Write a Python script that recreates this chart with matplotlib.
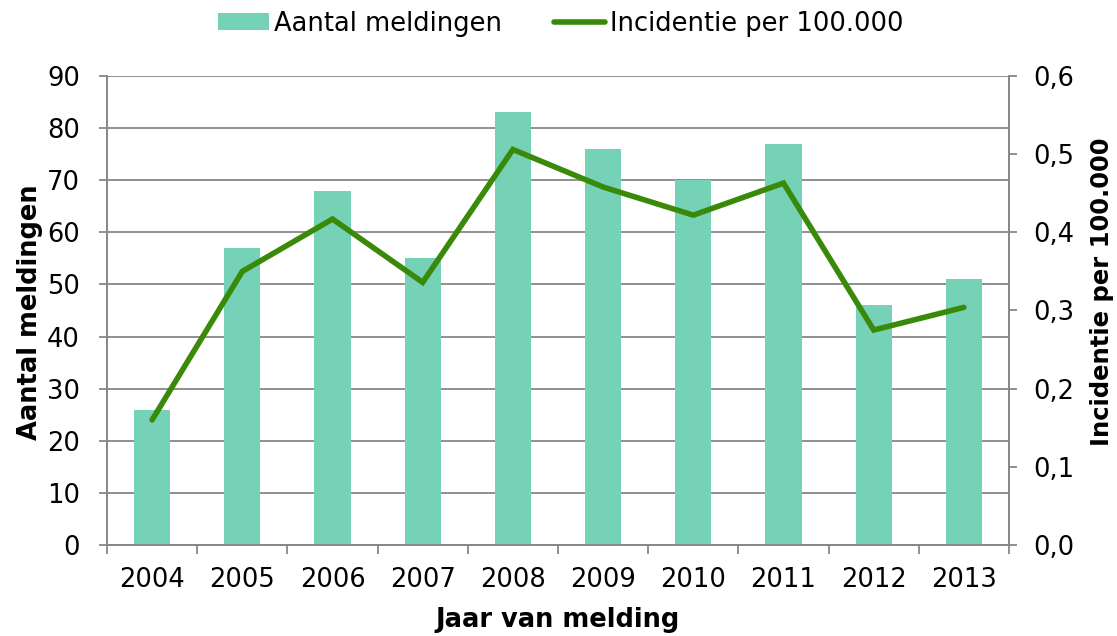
import matplotlib
matplotlib.use("Agg")
import matplotlib.pyplot as plt
import numpy as np
from matplotlib.ticker import FuncFormatter, FixedLocator

years = ["2004", "2005", "2006", "2007", "2008", "2009", "2010", "2011", "2012", "2013"]
meldingen = [26, 57, 68, 55, 83, 76, 70, 77, 46, 51]
incidentie = [0.160, 0.350, 0.417, 0.336, 0.506, 0.458, 0.422, 0.463, 0.275, 0.304]

bar_color = "#76D2B6"
line_color = "#3A8A0A"
grid_color = "#878787"
tick_fs = 18.5
label_fs = 18.5

plt.rcParams["font.family"] = ["DejaVu Sans"]

fig = plt.figure(figsize=(11.17, 6.36), dpi=100)
ax = fig.add_axes([0.0958, 0.1431, 0.8075, 0.7374])
ax2 = ax.twinx()

x = np.arange(len(years))
ax.bar(x, meldingen, width=0.4, color=bar_color, zorder=3, label="Aantal meldingen")
ax2.plot(x, incidentie, color=line_color, lw=4.0, solid_capstyle="round",
         solid_joinstyle="miter", zorder=4, label="Incidentie per 100.000")

ax.set_xlim(-0.5, len(years) - 0.5)
ax.set_ylim(0, 90)
ax.set_yticks(range(0, 91, 10))
ax2.set_ylim(0, 0.6)
ax2.set_yticks(np.arange(0, 0.61, 0.1))
ax2.yaxis.set_major_formatter(FuncFormatter(lambda v, p: f"{v:.1f}".replace(".", ",")))

ax.grid(axis="y", color=grid_color, lw=1.3, zorder=0)
ax.set_axisbelow(True)

# x ticks sit between the categories, labels at the centres
ax.set_xticks(x)
ax.set_xticklabels(years, fontsize=tick_fs)
ax.tick_params(axis="x", which="major", length=0, pad=16)
ax.xaxis.set_minor_locator(FixedLocator(np.arange(-0.5, len(years), 1)))
ax.tick_params(axis="x", which="minor", length=6.5, width=1.3, color=grid_color, direction="out")

ax.tick_params(axis="y", length=5.5, width=1.3, color=grid_color, labelsize=tick_fs, pad=14)
ax2.tick_params(axis="y", length=5.5, width=1.3, color=grid_color, labelsize=tick_fs, pad=12)

for a in (ax, ax2):
    a.spines["top"].set_visible(False)
    for s in ("left", "right", "bottom"):
        a.spines[s].set_color(grid_color)
        a.spines[s].set_linewidth(1.3)

ax.set_xlabel("Jaar van melding", fontsize=label_fs, fontweight="bold")
ax.set_ylabel("Aantal meldingen", fontsize=label_fs, fontweight="bold")
ax2.set_ylabel("Incidentie per 100.000", fontsize=17.5, fontweight="bold")
ax.xaxis.set_label_coords(0.5, -0.16)
ax.yaxis.set_label_coords(-0.085, 0.497)
ax2.yaxis.set_label_coords(1.103, 0.54)
ax.xaxis.label.set_va("center")
ax.yaxis.label.set_va("center")
ax2.yaxis.label.set_va("center")

h1, l1 = ax.get_legend_handles_labels()
h2, l2 = ax2.get_legend_handles_labels()
fig.legend(h1 + h2, l1 + l2, loc="center", bbox_to_anchor=(0.502, 0.963), ncol=2,
           frameon=False, fontsize=18.5, handlelength=2.0, handletextpad=0.2,
           columnspacing=2.0, handleheight=0.6)

fig.savefig("out.png", dpi=100)
